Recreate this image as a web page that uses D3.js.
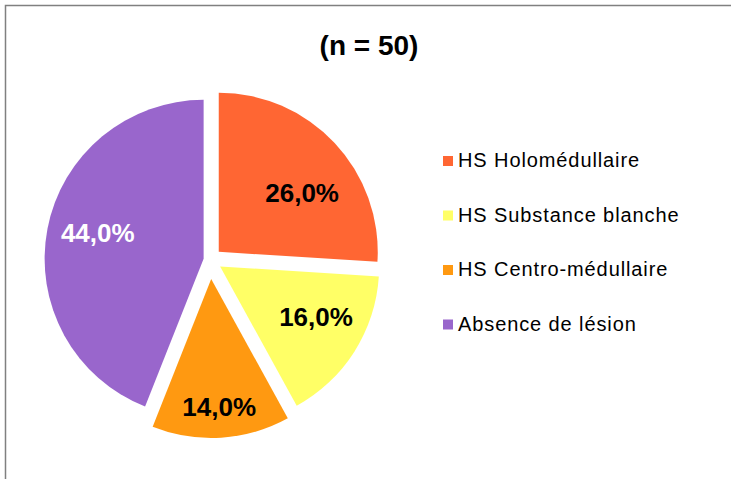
<!DOCTYPE html>
<html>
<head>
<meta charset="utf-8">
<script src="https://cdn.jsdelivr.net/npm/d3@7"></script>
<style>
  body { margin: 0; background: #fff; }
  svg { display: block; }
</style>
</head>
<body>
<div id="chart"></div>
<script>
var svgWidth = 731;
var svgHeight = 479;

// data
var categories = ["HS Holomédullaire", "HS Substance blanche", "HS Centro-médullaire", "Absence de lésion"];
var values = [26.0, 16.0, 14.0, 44.0];
var title = "(n = 50)";

// styles
var colors = ["#FF6633", "#FFFF66", "#FF9911", "#9966CC"];
var labelColors = ["#000", "#000", "#000", "#fff"];
var explode = [12, 12, 19, 6.5];      // px each slice is pulled out
var labelRadius = [102, 108, 128, 109];
var labelNudge = [8, -5, 0, 3];        // degrees

var center = { x: 210, y: 260 };
var radius = 159;

var svg = d3.select("#chart")
  .append("svg")
  .attr("width", svgWidth)
  .attr("height", svgHeight);

// chart frame (right and bottom edges fall outside the picture)
svg.append("rect")
  .attr("x", 5.5)
  .attr("y", 5.5)
  .attr("width", 740)
  .attr("height", 490)
  .attr("fill", "#fff")
  .attr("stroke", "#808080")
  .attr("stroke-width", 1.5);

svg.append("text")
  .attr("x", 369)
  .attr("y", 55)
  .attr("text-anchor", "middle")
  .attr("font-family", "Liberation Sans, Arial, sans-serif")
  .attr("font-weight", "bold")
  .attr("font-size", "28px")
  .attr("fill", "#000")
  .text(title);

var pie = d3.pie()
  .sort(null)
  .value(d => d);

var arcs = pie(values);

var arc = d3.arc()
  .innerRadius(0)
  .outerRadius(radius);

var slices = svg.selectAll(".slice")
  .data(arcs)
  .enter()
  .append("g")
  .attr("class", "slice")
  .attr("transform", function(d, i) {
    var mid = (d.startAngle + d.endAngle) / 2;
    var x = center.x + explode[i] * Math.sin(mid);
    var y = center.y - explode[i] * Math.cos(mid);
    return `translate(${x}, ${y})`;
  });

slices.append("path")
  .attr("d", arc)
  .attr("fill", (d, i) => colors[i]);

slices.append("text")
  .attr("transform", function(d, i) {
    var a = (d.startAngle + d.endAngle) / 2 + labelNudge[i] * Math.PI / 180;
    return `translate(${labelRadius[i] * Math.sin(a)}, ${-labelRadius[i] * Math.cos(a)})`;
  })
  .attr("text-anchor", "middle")
  .attr("dy", "0.36em")
  .attr("font-family", "Liberation Sans, Arial, sans-serif")
  .attr("font-weight", "bold")
  .attr("font-size", "26px")
  .attr("fill", (d, i) => labelColors[i])
  .text(d => d.data.toFixed(1).replace(".", ",") + "%");

// legend
var legend = svg.selectAll(".legend")
  .data(categories)
  .enter()
  .append("g")
  .attr("class", "legend")
  .attr("transform", (d, i) => `translate(443, ${167 + i * 54.5})`);

legend.append("rect")
  .attr("x", 0)
  .attr("y", -11)
  .attr("width", 10)
  .attr("height", 10)
  .attr("fill", (d, i) => colors[i]);

legend.append("text")
  .attr("x", 15)
  .attr("y", 0)
  .attr("font-family", "Liberation Sans, Arial, sans-serif")
  .attr("font-size", "20px")
  .attr("letter-spacing", "0.9px")
  .attr("fill", "#000")
  .text(d => d);
</script>
</body>
</html>
